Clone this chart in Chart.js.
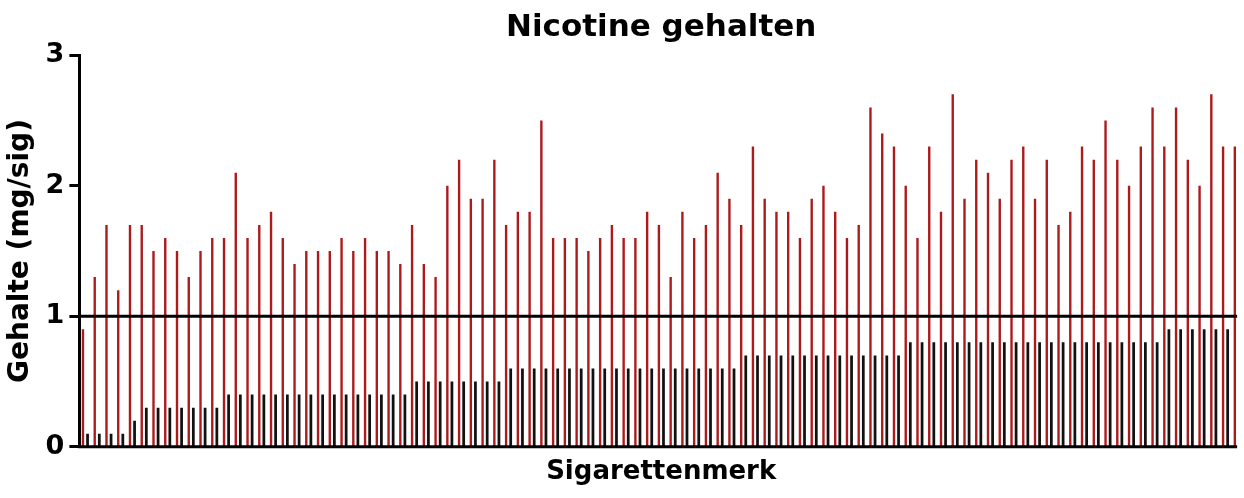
<!DOCTYPE html>
<html>
<head>
<meta charset="utf-8">
<title>Nicotine gehalten</title>
<script src="https://cdn.jsdelivr.net/npm/chart.js@4"></script>
<style>
  html, body { margin: 0; padding: 0; background: #fff; }
  #wrap { width: 1244px; height: 498px; }
</style>
</head>
<body>
<div id="wrap"><canvas id="myChart"></canvas></div>
<script>
"use strict";

// one category per cigarette brand (names not shown in the figure)
const brands = [];
for (let i = 1; i <= 99; i++) brands.push("Merk " + i);

// red bars
const seriesRed = [
  0.9, 1.3, 1.7, 1.2, 1.7, 1.7, 1.5, 1.6, 1.5, 1.3, 1.5, 1.6, 1.6, 2.1, 1.6, 1.7, 1.8, 1.6, 1.4, 1.5, 1.5, 1.5, 1.6, 1.5, 1.6,
  1.5, 1.5, 1.4, 1.7, 1.4, 1.3, 2.0, 2.2, 1.9, 1.9, 2.2, 1.7, 1.8, 1.8, 2.5, 1.6, 1.6, 1.6, 1.5, 1.6, 1.7, 1.6, 1.6, 1.8, 1.7,
  1.3, 1.8, 1.6, 1.7, 2.1, 1.9, 1.7, 2.3, 1.9, 1.8, 1.8, 1.6, 1.9, 2.0, 1.8, 1.6, 1.7, 2.6, 2.4, 2.3, 2.0, 1.6, 2.3, 1.8,
  2.7, 1.9, 2.2, 2.1, 1.9, 2.2, 2.3, 1.9, 2.2, 1.7, 1.8, 2.3, 2.2, 2.5, 2.2, 2.0, 2.3, 2.6, 2.3, 2.6, 2.2, 2.0, 2.7, 2.3, 2.3,
];

// black bars (last brand has none)
const seriesBlack = [
  0.1, 0.1, 0.1, 0.1, 0.2, 0.3, 0.3, 0.3, 0.3, 0.3, 0.3, 0.3, 0.4, 0.4, 0.4, 0.4, 0.4, 0.4, 0.4, 0.4, 0.4, 0.4, 0.4, 0.4, 0.4,
  0.4, 0.4, 0.4, 0.5, 0.5, 0.5, 0.5, 0.5, 0.5, 0.5, 0.5, 0.6, 0.6, 0.6, 0.6, 0.6, 0.6, 0.6, 0.6, 0.6, 0.6, 0.6, 0.6, 0.6, 0.6,
  0.6, 0.6, 0.6, 0.6, 0.6, 0.6, 0.7, 0.7, 0.7, 0.7, 0.7, 0.7, 0.7, 0.7, 0.7, 0.7, 0.7, 0.7, 0.7, 0.7, 0.8, 0.8, 0.8, 0.8,
  0.8, 0.8, 0.8, 0.8, 0.8, 0.8, 0.8, 0.8, 0.8, 0.8, 0.8, 0.8, 0.8, 0.8, 0.8, 0.8, 0.8, 0.8, 0.9, 0.9, 0.9, 0.9, 0.9, 0.9, null,
];

const yTicks = [0, 1, 2, 3];
const threshold = 1;

const FONT = "'DejaVu Sans', sans-serif";

// horizontal line at the threshold plus the x axis line
const refLines = {
  id: "refLines",
  afterDatasetsDraw(chart) {
    const { ctx, chartArea, scales } = chart;
    const right = scales.x.getPixelForValue(brands.length - 1);
    ctx.save();
    ctx.strokeStyle = "#000";
    ctx.lineWidth = 3;
    [threshold, yTicks[0]].forEach((v) => {
      const py = scales.y.getPixelForValue(v);
      ctx.beginPath();
      ctx.moveTo(chartArea.left - 1.5, py);
      ctx.lineTo(right, py);
      ctx.stroke();
    });
    ctx.restore();
  },
};

const ctx = document.getElementById("myChart").getContext("2d");
const myChart = new Chart(ctx, {
  type: "bar",
  data: {
    labels: brands,
    datasets: [
      {
        label: "Reeks 1",
        data: seriesRed,
        backgroundColor: "#AC1A1C",
        barPercentage: 0.52,
      },
      {
        label: "Reeks 2",
        data: seriesBlack,
        backgroundColor: "#111111",
        barPercentage: 0.6,
      },
    ],
  },
  options: {
    responsive: true,
    maintainAspectRatio: false,
    animation: false,
    layout: { padding: { right: 1 } },
    datasets: { bar: { categoryPercentage: 0.78 } },
    plugins: {
      legend: { display: false },
      tooltip: { enabled: false },
      title: {
        display: true,
        fullSize: false,
        text: "Nicotine gehalten",
        color: "#000",
        font: { family: FONT, size: 31, weight: "bold" },
        padding: { top: 9, bottom: 9 },
      },
    },
    scales: {
      x: {
        grid: { display: false, drawTicks: false },
        border: { display: false },
        ticks: { display: false },
        title: {
          display: true,
          text: "Sigarettenmerk",
          color: "#000",
          font: { family: FONT, size: 26, weight: "bold" },
          padding: { top: 10, bottom: 10 },
        },
      },
      y: {
        min: yTicks[0],
        max: yTicks[yTicks.length - 1],
        afterBuildTicks: (axis) => {
          axis.ticks = yTicks.map((v) => ({ value: v }));
        },
        grid: {
          drawOnChartArea: false,
          drawTicks: true,
          tickLength: 10,
          tickWidth: 3,
          tickColor: "#000",
        },
        border: { display: true, width: 3, color: "#000" },
        ticks: {
          color: "#000",
          padding: 5,
          font: { family: FONT, size: 27, weight: "bold" },
        },
        title: {
          display: true,
          text: "Gehalte (mg/sig)",
          color: "#000",
          font: { family: FONT, size: 28, weight: "bold" },
          padding: { top: 4, bottom: 3 },
        },
      },
    },
  },
  plugins: [refLines],
});
</script>
</body>
</html>
